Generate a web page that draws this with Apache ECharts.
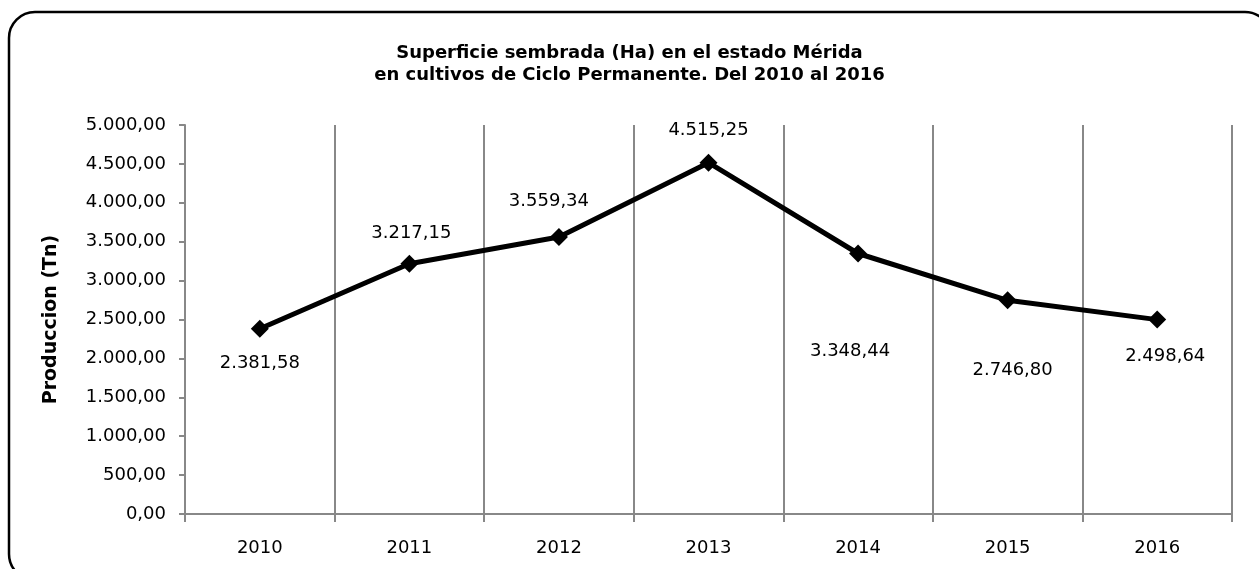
<!DOCTYPE html>
<html>
<head>
<meta charset="utf-8">
<script src="https://cdn.jsdelivr.net/npm/echarts@6/dist/echarts.min.js"></script>
<style>
html,body{margin:0;padding:0;background:#fff;}
#c{width:1259px;height:569px;}
</style>
</head>
<body>
<div id="c"></div>
<script>
const categories = ['2010','2011','2012','2013','2014','2015','2016'];
const values = [2381.58, 3217.15, 3559.34, 4515.25, 3348.44, 2746.80, 2498.64];
const titleLines = ['Superficie sembrada (Ha) en el estado Mérida', 'en cultivos de Ciclo Permanente. Del 2010 al 2016'];
const yAxisName = 'Produccion (Tn)';

// label placement (layout only)
const labelOffsets = [[0,35],[2,-30],[-10,-36],[0,-32],[-8,98],[5,70],[8,37]];

function fmt(v){
  const parts = v.toFixed(2).split('.');
  parts[0] = parts[0].replace(/\B(?=(\d{3})+(?!\d))/g, '.');
  return parts[0] + ',' + parts[1];
}

const FONT = '"DejaVu Sans", Arial, sans-serif';
const chart = echarts.init(document.getElementById('c'));
chart.setOption({
  animation: false,
  backgroundColor: '#fff',
  title: {
    text: titleLines.join('\n'),
    left: 'center',
    top: 37,
    textStyle: {fontFamily: FONT, fontSize: 18, fontWeight: 'bold', color: '#000', lineHeight: 22}
  },
  graphic: [{
    type: 'rect',
    shape: {x: 9, y: 12, width: 1262, height: 568, r: 26},
    style: {fill: 'none', stroke: '#000', lineWidth: 2.5},
    z: 100
  }],
  grid: {left: 185, right: 27, top: 125, bottom: 55, containLabel: false},
  xAxis: {
    type: 'category',
    data: categories,
    boundaryGap: true,
    axisLine: {lineStyle: {color: '#888', width: 2}},
    axisTick: {show: true, length: 8, lineStyle: {color: '#888', width: 2}},
    axisLabel: {fontFamily: FONT, fontSize: 18, color: '#000', margin: 25},
    splitLine: {show: true, lineStyle: {color: '#888', width: 2}}
  },
  yAxis: {
    type: 'value',
    min: 0, max: 5000, interval: 500,
    name: yAxisName,
    nameLocation: 'middle',
    nameGap: 124,
    nameTextStyle: {fontFamily: FONT, fontSize: 19, fontWeight: 'bold', color: '#000'},
    axisLine: {show: true, lineStyle: {color: '#888', width: 2}},
    axisTick: {show: true, length: 6, lineStyle: {color: '#888', width: 2}},
    axisLabel: {fontFamily: FONT, fontSize: 18, color: '#000', margin: 19, formatter: v => fmt(v)},
    splitLine: {show: false}
  },
  series: [{
    type: 'line',
    data: values.map((v, i) => ({
      value: v,
      label: {show: true, position: 'inside', offset: labelOffsets[i]}
    })),
    symbol: 'diamond',
    symbolSize: 18,
    lineStyle: {color: '#000', width: 5},
    itemStyle: {color: '#000'},
    label: {
      show: true,
      fontFamily: FONT, fontSize: 18, color: '#000',
      formatter: p => fmt(p.value)
    }
  }]
});
</script>
</body>
</html>
